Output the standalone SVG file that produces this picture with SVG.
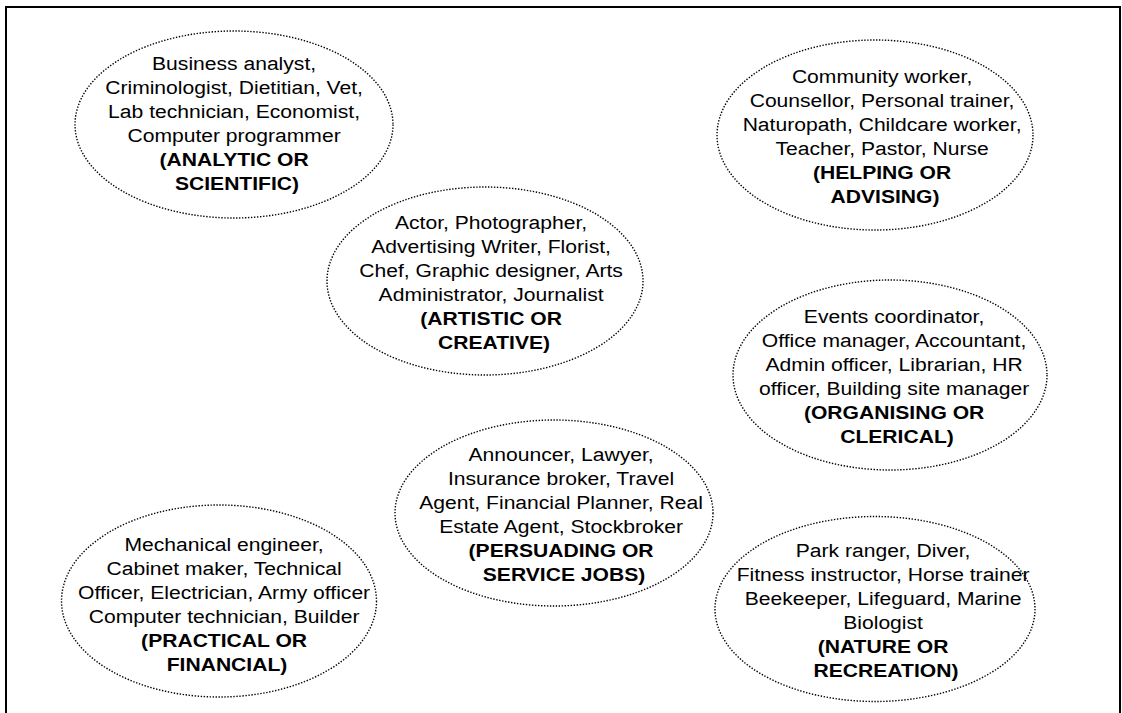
<svg xmlns="http://www.w3.org/2000/svg" width="1122" height="713" viewBox="0 0 1122 713">
<style>
.bubble{fill:none;stroke:#000;stroke-width:1.4;stroke-dasharray:1.4 1.6}
.t{font-family:"Liberation Sans",Arial,sans-serif;font-size:19px;fill:#000;text-anchor:middle}
.b{font-weight:bold}
.frame{fill:none;stroke:#000;stroke-width:2}
</style>
<rect width="1122" height="713" fill="#fff"/>
<path class="frame" d="M6,713 V7 H1120 V713"/>
<g id="connectors"/>
<g id="analytic">
<ellipse class="bubble" cx="234" cy="124.5" rx="159" ry="93.5"/>
<text class="t" transform="translate(237,0) scale(1.11,1)">
<tspan x="0" y="70.5">Business analyst,</tspan>
<tspan x="0" y="94.5">Criminologist, Dietitian, Vet,</tspan>
<tspan x="0" y="118.5">Lab technician, Economist,</tspan>
<tspan x="0" y="142.5">Computer programmer</tspan>
<tspan x="0" y="166.5" class="b">(ANALYTIC OR</tspan>
<tspan x="0" y="190.5" class="b">SCIENTIFIC)</tspan>
</text>
</g>
<g id="helping">
<ellipse class="bubble" cx="875" cy="135" rx="158" ry="95"/>
<text class="t" transform="translate(885,0) scale(1.11,1)">
<tspan x="0" y="83.5">Community worker,</tspan>
<tspan x="0" y="107.5">Counsellor, Personal trainer,</tspan>
<tspan x="0" y="131.5">Naturopath, Childcare worker,</tspan>
<tspan x="0" y="155.5">Teacher, Pastor, Nurse</tspan>
<tspan x="0" y="179.5" class="b">(HELPING OR</tspan>
<tspan x="0" y="203.5" class="b">ADVISING)</tspan>
</text>
</g>
<g id="artistic">
<ellipse class="bubble" cx="485" cy="281" rx="158" ry="94"/>
<text class="t" transform="translate(494,0) scale(1.11,1)">
<tspan x="0" y="229">Actor, Photographer,</tspan>
<tspan x="0" y="253">Advertising Writer, Florist,</tspan>
<tspan x="0" y="277">Chef, Graphic designer, Arts</tspan>
<tspan x="0" y="301">Administrator, Journalist</tspan>
<tspan x="0" y="325" class="b">(ARTISTIC OR</tspan>
<tspan x="0" y="349" class="b">CREATIVE)</tspan>
</text>
</g>
<g id="organising">
<ellipse class="bubble" cx="890" cy="375" rx="157" ry="95"/>
<text class="t" transform="translate(897,0) scale(1.11,1)">
<tspan x="0" y="323.5">Events coordinator,</tspan>
<tspan x="0" y="347.5">Office manager, Accountant,</tspan>
<tspan x="0" y="371.5">Admin officer, Librarian, HR</tspan>
<tspan x="0" y="395.5">officer, Building site manager</tspan>
<tspan x="0" y="419.5" class="b">(ORGANISING OR</tspan>
<tspan x="0" y="443.5" class="b">CLERICAL)</tspan>
</text>
</g>
<g id="persuading">
<ellipse class="bubble" cx="554" cy="513" rx="159" ry="93"/>
<text class="t" transform="translate(564,0) scale(1.11,1)">
<tspan x="0" y="461">Announcer, Lawyer,</tspan>
<tspan x="0" y="485">Insurance broker, Travel</tspan>
<tspan x="0" y="509">Agent, Financial Planner, Real</tspan>
<tspan x="0" y="533">Estate Agent, Stockbroker</tspan>
<tspan x="0" y="557" class="b">(PERSUADING OR</tspan>
<tspan x="0" y="581" class="b">SERVICE JOBS)</tspan>
</text>
</g>
<g id="practical">
<ellipse class="bubble" cx="219" cy="601" rx="157.5" ry="96"/>
<text class="t" transform="translate(227,0) scale(1.11,1)">
<tspan x="0" y="551.5">Mechanical engineer,</tspan>
<tspan x="0" y="575.5">Cabinet maker, Technical</tspan>
<tspan x="0" y="599.5">Officer, Electrician, Army officer</tspan>
<tspan x="0" y="623.5">Computer technician, Builder</tspan>
<tspan x="0" y="647.5" class="b">(PRACTICAL OR</tspan>
<tspan x="0" y="671.5" class="b">FINANCIAL)</tspan>
</text>
</g>
<g id="nature">
<ellipse class="bubble" cx="875" cy="609" rx="160" ry="92.5"/>
<text class="t" transform="translate(886,0) scale(1.11,1)">
<tspan x="0" y="557">Park ranger, Diver,</tspan>
<tspan x="0" y="581">Fitness instructor, Horse trainer</tspan>
<tspan x="0" y="605">Beekeeper, Lifeguard, Marine</tspan>
<tspan x="0" y="629">Biologist</tspan>
<tspan x="0" y="653" class="b">(NATURE OR</tspan>
<tspan x="0" y="677" class="b">RECREATION)</tspan>
</text>
</g>
</svg>
